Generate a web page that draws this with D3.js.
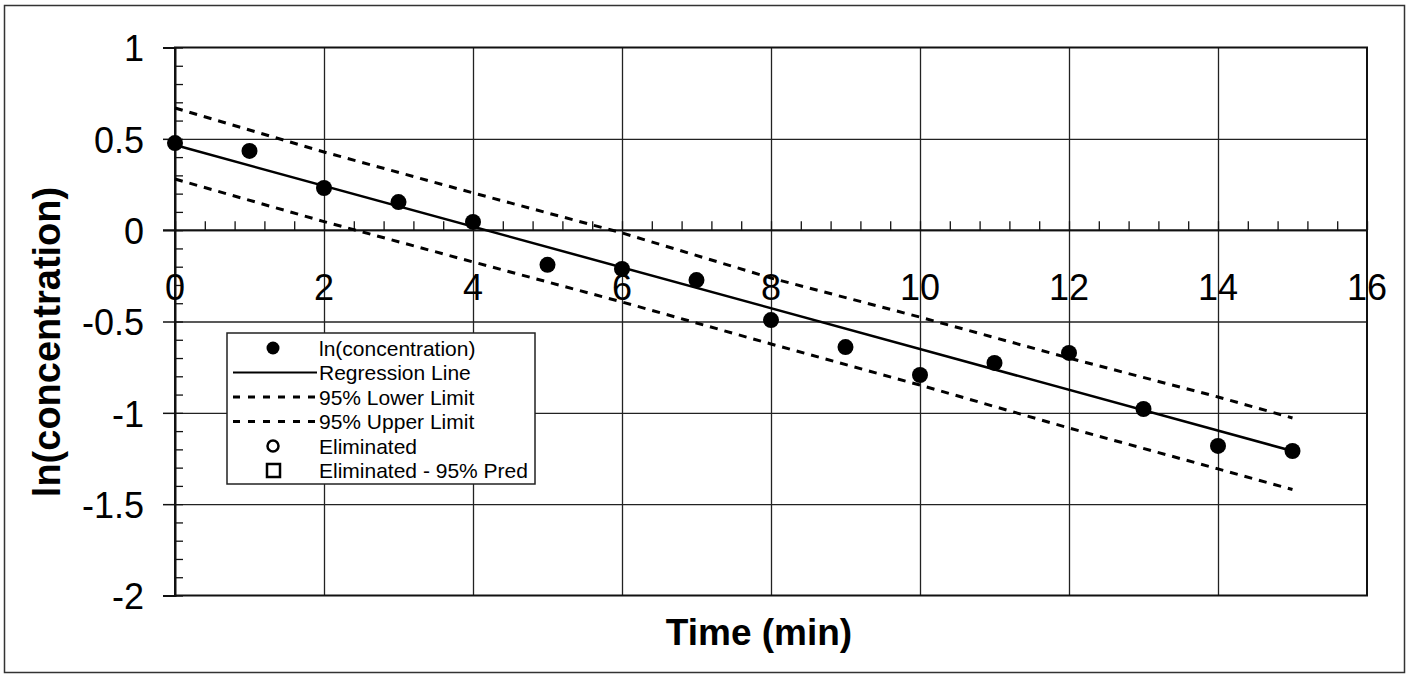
<!DOCTYPE html>
<html>
<head>
<meta charset="utf-8">
<script src="https://cdn.jsdelivr.net/npm/d3@7"></script>
<style>
body { margin: 0; background: #fff; }
text { font-family: "Liberation Sans", Arial, Helvetica, sans-serif; fill: #000; }
</style>
</head>
<body>
<div id="chart"></div>
<script>
// data
var timeMin = [0, 1, 2, 3, 4, 5, 6, 7, 8, 9, 10, 11, 12, 13, 14, 15];
var lnConc = [0.477, 0.434, 0.231, 0.154, 0.045, -0.19, -0.212, -0.273, -0.492, -0.64, -0.793, -0.727, -0.672, -0.979, -1.181, -1.209];

var regX = [0, 15];
var regY = [0.466, -1.209];

var limX = [0, 2, 4, 6, 8, 10, 12, 14, 15];
var lowerY = [0.28, 0.047, -0.174, -0.393, -0.623, -0.848, -1.083, -1.307, -1.42];
var upperY = [0.669, 0.428, 0.204, -0.015, -0.262, -0.476, -0.70, -0.913, -1.028];

var xTicks = [0, 2, 4, 6, 8, 10, 12, 14, 16];
var yTicks = [1, 0.5, 0, -0.5, -1, -1.5, -2];
var legendLabels = ["ln(concentration)", "Regression Line", "95% Lower Limit",
                    "95% Upper Limit", "Eliminated", "Eliminated - 95% Pred"];

var W = 1411, H = 675;
var margin = {top: 47.5, right: 44, bottom: 79.5, left: 175},
    width = W - margin.left - margin.right,
    height = H - margin.top - margin.bottom;

var x = d3.scaleLinear().domain([0, 16]).range([0, width]);
var y = d3.scaleLinear().domain([-2, 1]).range([height, 0]);

var root = d3.select("#chart").append("svg")
    .attr("width", W)
    .attr("height", H);

// outer frame
root.append("rect")
    .attr("x", 4.5).attr("y", 5.5)
    .attr("width", 1400).attr("height", 667)
    .attr("fill", "none").attr("stroke", "#333").attr("stroke-width", 1.5);

var svg = root.append("g")
    .attr("transform", "translate(" + margin.left + "," + margin.top + ")");

// grid
svg.append("g")
    .attr("transform", "translate(0," + height + ")")
    .call(d3.axisBottom(x).tickValues(xTicks.slice(1, -1)).tickSize(-height).tickFormat(""))
    .call(function(g) { g.select(".domain").remove(); })
    .selectAll("line").attr("stroke", "#222").attr("stroke-width", 1.3);

svg.append("g")
    .call(d3.axisLeft(y).tickValues(yTicks.slice(1, -1)).tickSize(-width).tickFormat(""))
    .call(function(g) { g.select(".domain").remove(); })
    .selectAll("line").attr("stroke", "#222").attr("stroke-width", 1.3);

// plot frame
svg.append("rect")
    .attr("width", width).attr("height", height)
    .attr("fill", "none").attr("stroke", "#111").attr("stroke-width", 2);

// y axis: major ticks outward with labels (plain hyphen minus like the original)
var yAxis = svg.append("g")
    .call(d3.axisLeft(y).tickValues(yTicks).tickSize(12).tickPadding(19)
        .tickFormat(function(d) { return String(d); }));
yAxis.select(".domain").attr("stroke", "#111").attr("stroke-width", 2);
yAxis.selectAll("line").attr("stroke", "#111").attr("stroke-width", 1.5);
yAxis.selectAll("text")
    .attr("font-size", 36)
    .attr("dy", "0.37em")
    .style("font-family", '"Liberation Sans", Arial, sans-serif');

// y minor ticks pointing inward
var yMinor = d3.range(-20, 11).map(function(i) { return i / 10; });
svg.append("g")
    .call(d3.axisRight(y).tickValues(yMinor).tickSize(8).tickFormat(""))
    .call(function(g) { g.select(".domain").remove(); })
    .selectAll("line").attr("stroke", "#111").attr("stroke-width", 1.3);

// x axis at y = 0
var xAxis = svg.append("g")
    .attr("transform", "translate(0," + y(0) + ")");
xAxis.append("line")
    .attr("x1", -12).attr("x2", width)
    .attr("stroke", "#111").attr("stroke-width", 2);
var xMinor = d3.range(0, 41).map(function(i) { return i * 0.4; });
xAxis.call(d3.axisTop(x).tickValues(xMinor).tickSize(9).tickFormat(""))
    .call(function(g) { g.select(".domain").remove(); })
    .selectAll(".tick line").attr("stroke", "#111").attr("stroke-width", 1.3);
xAxis.selectAll(".xlab")
    .data(xTicks)
  .enter().append("text")
    .attr("class", "xlab")
    .attr("x", function(d) { return x(d); })
    .attr("y", 70)
    .attr("text-anchor", "middle")
    .attr("font-size", 36)
    .text(function(d) { return d; });

// limits
var line = d3.line()
    .x(function(d) { return x(d[0]); })
    .y(function(d) { return y(d[1]); });

[lowerY, upperY].forEach(function(ys) {
  svg.append("path")
      .datum(limX.map(function(v, i) { return [v, ys[i]]; }))
      .attr("d", line)
      .attr("fill", "none")
      .attr("stroke", "#000")
      .attr("stroke-width", 3)
      .attr("stroke-dasharray", "8,7");
});

// regression line
svg.append("path")
    .datum(regX.map(function(v, i) { return [v, regY[i]]; }))
    .attr("d", line)
    .attr("fill", "none")
    .attr("stroke", "#000")
    .attr("stroke-width", 2.5);

// points
svg.selectAll(".pt")
    .data(timeMin)
  .enter().append("circle")
    .attr("class", "pt")
    .attr("cx", function(d) { return x(d); })
    .attr("cy", function(d, i) { return y(lnConc[i]); })
    .attr("r", 8)
    .attr("fill", "#000");

// axis titles
root.append("text")
    .attr("transform", "translate(60,342) rotate(-90)")
    .attr("text-anchor", "middle")
    .attr("font-size", 38)
    .attr("font-weight", "bold")
    .text("ln(concentration)");

root.append("text")
    .attr("x", 759).attr("y", 645)
    .attr("text-anchor", "middle")
    .attr("font-size", 37)
    .attr("font-weight", "bold")
    .text("Time (min)");

// legend
var leg = root.append("g").attr("transform", "translate(227,333)");
leg.append("rect")
    .attr("width", 308).attr("height", 151)
    .attr("fill", "#fff").attr("stroke", "#222").attr("stroke-width", 1.5);

var rowY = function(i) { return 15 + i * 24.5; };
legendLabels.forEach(function(lab, i) {
  leg.append("text")
      .attr("x", 92).attr("y", rowY(i))
      .attr("dy", "0.36em")
      .attr("font-size", 21)
      .text(lab);
});
leg.append("circle").attr("cx", 46).attr("cy", rowY(0)).attr("r", 6.5).attr("fill", "#000");
leg.append("line").attr("x1", 6).attr("x2", 90).attr("y1", rowY(1)).attr("y2", rowY(1))
    .attr("stroke", "#000").attr("stroke-width", 2.2);
[2, 3].forEach(function(i) {
  leg.append("line").attr("x1", 6).attr("x2", 90).attr("y1", rowY(i)).attr("y2", rowY(i))
      .attr("stroke", "#000").attr("stroke-width", 3).attr("stroke-dasharray", "7,8");
});
leg.append("circle").attr("cx", 46).attr("cy", rowY(4)).attr("r", 5.5)
    .attr("fill", "none").attr("stroke", "#000").attr("stroke-width", 2.5);
leg.append("rect").attr("x", 40).attr("y", rowY(5) - 6.5).attr("width", 13).attr("height", 13)
    .attr("fill", "none").attr("stroke", "#000").attr("stroke-width", 2.5);
</script>
</body>
</html>
